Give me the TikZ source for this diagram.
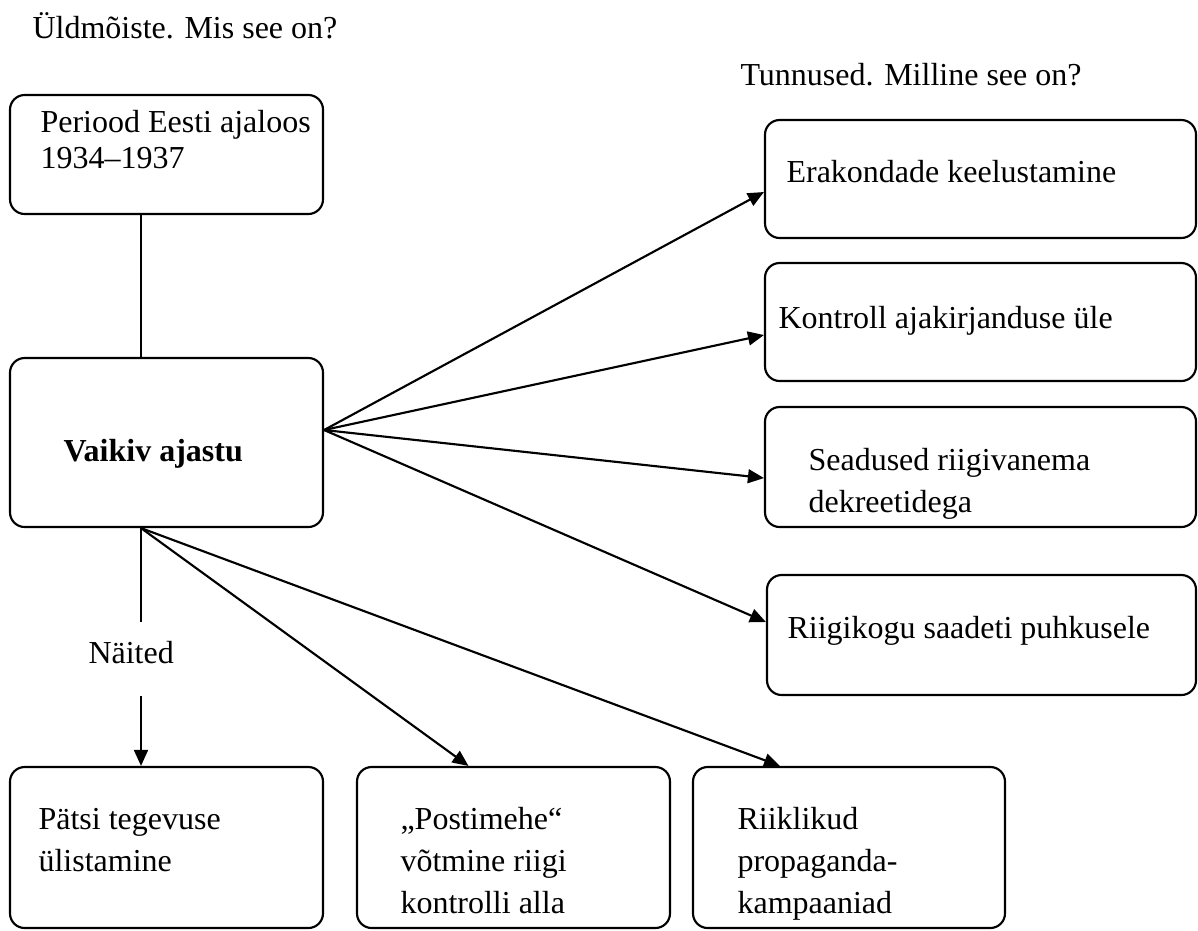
\documentclass[tikz,border=0pt]{standalone}
\usepackage{fontspec}
\setmainfont{Liberation Serif}
\usetikzlibrary{arrows.meta,calc}
\renewcommand{\arraystretch}{1.15}
\newcommand{\lines}[1]{\begin{tabular}[t]{@{}l@{}}#1\end{tabular}}

\begin{document}
\begin{tikzpicture}[x=0.375pt,y=-0.375pt,
        every node/.style={font=\fontsize{12}{13.8}\selectfont},
        box/.style 2 args={draw,line width=0.8pt,rounded corners=5.5pt,
            minimum width=#1*0.375pt,minimum height=#2*0.375pt,inner sep=0pt},
        txt/.style={anchor=base west,inner sep=0pt},
        link/.style={line width=0.8pt},
        arr/.style={line width=0.8pt,-{Triangle[length=6pt,width=5.2pt]}}]
        \useasboundingbox (0,0) rectangle (1198,930);
        %% Headings
        \node[txt] (yld) at (32,38) {Üldmõiste. Mis see on?};
        \node[txt] (tunn) at (740,85) {Tunnused. Milline see on?};
        %% Left column
        \node[box={313}{119}] (periood) at (166.5,154.5) {};
        \node[txt] (periood-t) at (40,132) {\lines{Periood Eesti ajaloos\\[-2pt]1934–1937}};
        \node[box={313}{169}] (vaikiv) at (166.5,442.5) {};
        \node[txt] (vaikiv-t) at (63,461) {\textbf{Vaikiv ajastu}};
        %% Features
        \node[box={431}{118}] (era) at (980.5,179) {};
        \node[txt] (era-t) at (786,182) {Erakondade keelustamine};
        \node[box={431}{118}] (kontroll) at (980.5,322) {};
        \node[txt] (kontroll-t) at (778,328) {Kontroll ajakirjanduse üle};
        \node[box={431}{120}] (seadus) at (980.5,467) {};
        \node[txt] (seadus-t) at (808,470) {\lines{Seadused riigivanema\\dekreetidega}};
        \node[box={429}{120}] (riigikogu) at (981.5,635) {};
        \node[txt] (riigikogu-t) at (787,638) {Riigikogu saadeti puhkusele};
        %% Examples
        \node[box={313}{161}] (patsi) at (166.5,847.5) {};
        \node[txt] (patsi-t) at (38,829) {\lines{Pätsi tegevuse\\ülistamine}};
        \node[box={313}{161}] (postimees) at (513.5,847.5) {};
        \node[txt] (postimees-t) at (400,829) {\lines{„Postimehe“\\võtmine riigi\\kontrolli alla}};
        \node[box={312}{161}] (riiklik) at (849,847.5) {};
        \node[txt] (riiklik-t) at (737,829) {\lines{Riiklikud\\propaganda-\\kampaaniad}};
        \node[txt] (naited) at (88,663) {Näited};
        %% Connectors
        \coordinate (vt) at (vaikiv.north -| 141,0);
        \coordinate (vb) at (vaikiv.south -| 141,0);
        \coordinate (vr) at (vaikiv.east |- 0,430);
        \coordinate (gaptop) at (141,622);
        \coordinate (gapbot) at (141,696);
        \draw[link] (vt |- periood.south) -- (vt);
        \draw[arr] (vr) -- ($(era.west)+(0,13)$);
        \draw[arr] (vr) -- ($(kontroll.west)+(0,13)$);
        \draw[arr] (vr) -- ($(seadus.west)+(0,11)$);
        \draw[arr] (vr) -- ($(riigikogu.west)+(0,-13)$);
        \draw[link] (vb) -- (gaptop);
        \draw[arr] (gapbot) -- (gapbot |- patsi.north);
        \draw[arr] (vb) -- ($(postimees.north)+(-45,0)$);
        \draw[arr] (vb) -- ($(riiklik.north)+(-69,0)$);
    \end{tikzpicture}
\end{document}
